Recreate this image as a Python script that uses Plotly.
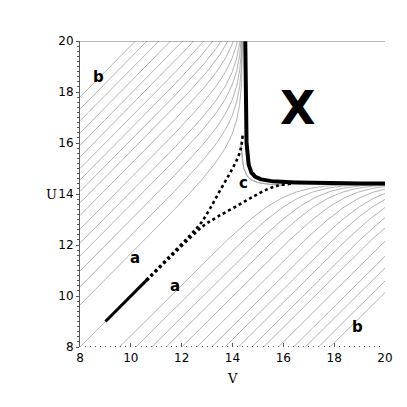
import numpy as np
import plotly.graph_objects as go

# ---- values ----
ASYM = 14.4          # vertical / horizontal asymptote of the solution curves
BEND = 0.8           # bending scale near the asymptote
# where the upper-left curves cross the left edge (V = 8)
upper_start_U = [9.65, 10.36, 10.98, 11.57, 12.07, 12.62, 13.16, 13.65, 14.1,
                 14.55, 15.0, 15.45, 15.91, 16.39, 16.87, 17.33, 17.8]
# where the lower-right curves cross the bottom edge (U = 8)
lower_start_V = [9.55, 10.2, 10.82, 11.39, 12.0, 12.6, 13.18, 13.7, 14.23,
                 14.76, 15.22, 15.8, 16.4, 16.86, 17.38, 17.84]
# dotted separatrix (upper branch; the lower one is its mirror image)
sep_V = [10.6, 11.5, 12.3, 12.75, 13.1, 13.5, 13.9, 14.2, 14.33, 14.4]
sep_U = [10.62, 11.53, 12.35, 12.85, 13.4, 14.12, 14.82, 15.4, 15.8, 16.3]
DIAG_THICK = [9.0, 10.7]
CORNER_K = 0.12              # thick boundary: (V-V0)(U-U0)=k
CORNER_V0, CORNER_U0 = 14.48, 14.39
C_CURVE = (14.25, 0.15)      # centre, k of the thin curve in region c

labels = [("b", 8.71, 18.59, 15), ("b", 18.9, 8.78, 15), ("a", 10.17, 11.49, 15),
          ("a", 11.74, 10.39, 15), ("c", 14.45, 14.42, 15), ("X", 16.54, 17.37, 46)]

x_ticks = [8, 10, 12, 14, 16, 18, 20]
y_ticks = [8, 10, 12, 14, 16, 18, 20]


def bend(v):
    w = ASYM - v
    return -BEND * np.log(1 - np.exp(-w / BEND))


w = np.concatenate([np.linspace(ASYM - 8, 0.5, 120), np.geomspace(0.5, 1e-5, 200)])
v = ASYM - w

fig = go.Figure()
GREY = "#999999"


def add(x, y, color=GREY, width=0.75, dash="solid", shape="linear"):
    fig.add_trace(go.Scatter(x=x, y=y, mode="lines", hoverinfo="skip", showlegend=False,
                             line=dict(color=color, width=width, dash=dash, shape=shape)))


# upper-left family
for u0 in upper_start_U:
    d = u0 - 8 - bend(8.0)
    add(v, v + d + bend(v))
# lower-right family (mirror)
for v0 in lower_start_V:
    d = v0 - 8 - bend(8.0)
    add(v + d + bend(v), v)

# thin diagonal from the corner
add([8, DIAG_THICK[0]], [8, DIAG_THICK[0]])
# thin curve in region c
cc, ck = C_CURVE
uc = np.linspace(14.25 + ck / 1.7, 16.0, 60)
add(cc + ck / (uc - cc), uc)
add(uc, cc + ck / (uc - cc))

# dotted separatrices
add(sep_V, sep_U, color="black", width=2.6, dash="dot", shape="spline")
add(sep_U, sep_V, color="black", width=2.6, dash="dot", shape="spline")

# thick diagonal
add(DIAG_THICK, DIAG_THICK, color="black", width=3)

# thick boundary of X
ub = np.concatenate([np.geomspace(5.7, 0.5, 60), np.geomspace(0.5, CORNER_K / 5.6, 80)])
add(CORNER_V0 + CORNER_K / ub, CORNER_U0 + ub, color="black", width=4)

# top frame line
fig.add_shape(type="line", x0=8, x1=20, y0=20, y1=20, line=dict(color="#777", width=1))

for t, x, y, s in labels:
    fig.add_annotation(x=x, y=y, text=f"<b>{t}</b>", showarrow=False,
                       font=dict(family="DejaVu Sans", size=s, color="black"))

fig.add_annotation(x=0.5, y=-0.072, xref="paper", yref="paper", text="V", showarrow=False,
                   font=dict(family="DejaVu Serif", size=13, color="black"), yanchor="top")
fig.add_annotation(x=-0.068, y=14, xref="paper", yref="y", text="U", showarrow=False,
                   font=dict(family="DejaVu Serif", size=13, color="black"), xanchor="right")

fig.update_layout(
    width=399, height=399, margin=dict(l=72, r=22, t=33, b=60),
    paper_bgcolor="white", plot_bgcolor="white",
    font=dict(family="DejaVu Sans", size=12, color="black"),
    xaxis=dict(range=[8, 20], tickvals=x_ticks, showgrid=False, zeroline=False,
               showline=False, ticks="inside", ticklen=4, tickcolor="#555",
               minor=dict(dtick=0.2, ticks="inside", ticklen=1.5, tickcolor="#555"),
               ticklabelstandoff=2),
    yaxis=dict(range=[8, 20], tickvals=y_ticks, showgrid=False, zeroline=False,
               showline=True, linecolor="#555", linewidth=1, ticks="outside", ticklen=3,
               tickcolor="#555", ticklabelstandoff=0,
               minor=dict(dtick=0.2, ticks="outside", ticklen=2, tickcolor="#555")),
)

fig.write_html("out.html")
